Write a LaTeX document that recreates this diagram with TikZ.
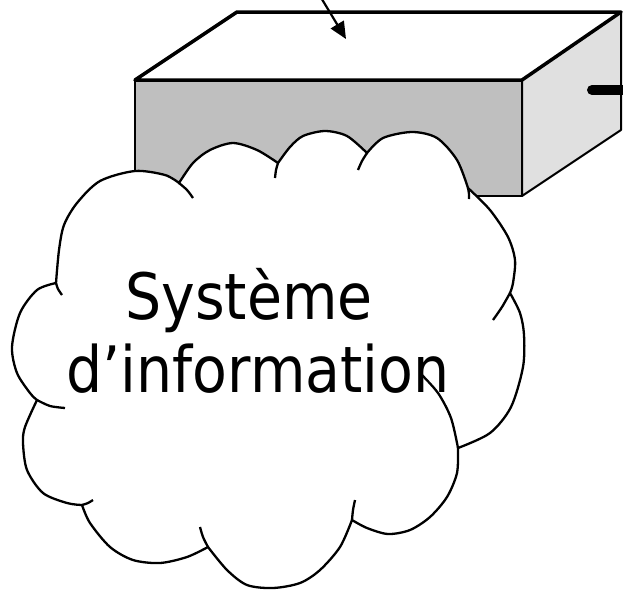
\documentclass[tikz,border=0pt]{standalone}
\usepackage{fontspec}
\newfontfamily\cloudfont{DejaVu Sans}[FakeStretch=0.89]
\usetikzlibrary{arrows.meta}
\definecolor{frontgray}{gray}{0.75}
\definecolor{sidegray}{gray}{0.88}
\begin{document}
\begin{tikzpicture}[x=1pt,y=-1pt,
  face/.style={draw=black,line width=2pt,line join=round},
  cloudline/.style={draw=black,line width=2.3pt},
  pointer/.style={line width=2.2pt,-{Triangle[length=17pt,width=15pt]}},
  caption/.style={font=\cloudfont\fontsize{64}{73}\selectfont,inner sep=0pt,anchor=base}]
\useasboundingbox (0,0) rectangle (623,590);
% the box
\draw[face,fill=frontgray] (135,80)--(522,80)--(522,196)--(135,196)--cycle;
\draw[face,fill=sidegray] (522,80)--(621,12)--(621,130)--(522,196)--cycle;
\draw[face,fill=white,line width=3.5pt] (135,80)--(237,12)--(621,12)--(522,80)--cycle;
\draw[line width=10pt,line cap=round] (592,90)--(630,90);
\coordinate (src) at (320,-4);
\coordinate (lid) at (346,39);
\draw[pointer] (src)--(lid);
% the cloud
\draw[cloudline,fill=white]
  plot[smooth] coordinates {(56,283) (59,250) (64,225) (77,203) (100,181) (135,171) (165,175) (179,183)}
  -- plot[smooth] coordinates {(179,183) (193,163) (210,150) (233,143) (257,150) (278,163)}
  -- plot[smooth] coordinates {(278,163) (290,147) (303,136) (325,131) (347,136) (367,153)}
  -- plot[smooth] coordinates {(367,153) (383,138) (412,132) (437,138) (457,160) (468,188)}
  -- plot[smooth] coordinates {(468,188) (490,210) (508,237) (515,260) (513,283) (510,293)}
  -- plot[smooth] coordinates {(510,293) (520,313) (524,335) (523,367) (511,407) (490,433) (458,448)}
  -- plot[smooth] coordinates {(458,448) (457,473) (447,497) (430,517) (410,530) (388,534) (367,528) (352,520)}
  -- plot[smooth] coordinates {(352,520) (340,547) (320,570) (300,583) (273,588) (247,585) (227,570) (208,547)}
  -- plot[smooth] coordinates {(208,547) (187,557) (160,563) (133,560) (110,547) (90,523) (82,505)}
  -- plot[smooth] coordinates {(82,505) (67,503) (43,493) (27,470) (23,443) (25,427) (37,400)}
  -- plot[smooth] coordinates {(37,400) (30,393) (17,373) (12,347) (20,313) (37,290) (56,283)}
  -- cycle;
\node[caption] (sys) at (249,319) {Système};
\node[caption] (info) at (258,392) {d’information};
% inner arcs of the lobes
\draw[cloudline] plot[smooth] coordinates {(179,183) (187,190) (193,198)};
\draw[cloudline] plot[smooth] coordinates {(278,163) (276,170) (275,178)};
\draw[cloudline] plot[smooth] coordinates {(367,153) (362,161) (358,170)};
\draw[cloudline] plot[smooth] coordinates {(468,188) (469,194) (469,199)};
\draw[cloudline] plot[smooth] coordinates {(510,293) (502,307) (493,320)};
\draw[cloudline] plot[smooth] coordinates {(458,448) (451,418) (438,393) (420,373)};
\draw[cloudline] plot[smooth] coordinates {(352,520) (353,510) (355,500)};
\draw[cloudline] plot[smooth] coordinates {(208,547) (203,537) (200,527)};
\draw[cloudline] plot[smooth] coordinates {(82,505) (88,503) (93,500)};
\draw[cloudline] plot[smooth] coordinates {(37,400) (50,406) (65,408)};
\draw[cloudline] plot[smooth] coordinates {(56,283) (58,289) (62,295)};
\end{tikzpicture}
\end{document}
